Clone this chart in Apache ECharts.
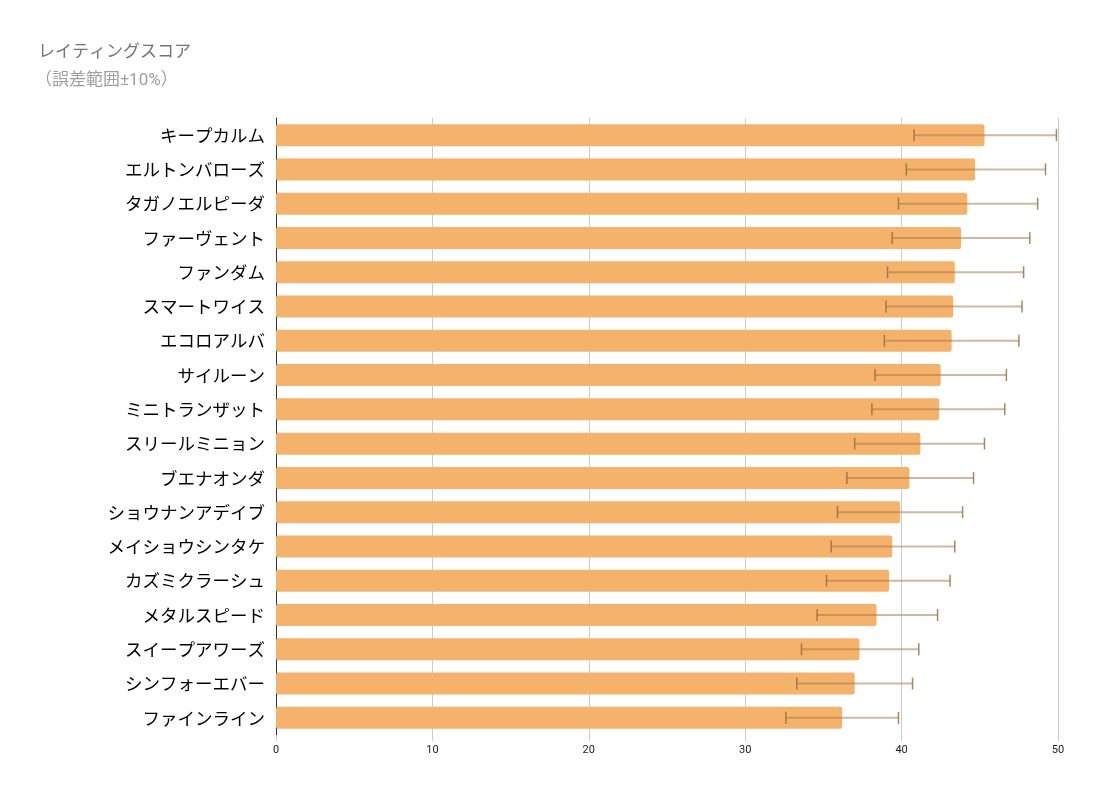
<!DOCTYPE html>
<html>
<head>
<meta charset="utf-8">
<script src="https://cdn.jsdelivr.net/npm/echarts@6/dist/echarts.min.js"></script>
<style>
  html, body { margin: 0; padding: 0; background: #fff; }
  #chart { width: 1102px; height: 799px; }
</style>
</head>
<body>
<div id="chart"></div>
<script>
// categories, top to bottom
const names = [
  "キープカルム", "エルトンバローズ", "タガノエルピーダ", "ファーヴェント",
  "ファンダム", "スマートワイス", "エコロアルバ", "サイルーン",
  "ミニトランザット", "スリールミニョン", "ブエナオンダ", "ショウナンアデイブ",
  "メイショウシンタケ", "カズミクラーシュ", "メタルスピード", "スイープアワーズ",
  "シンフォーエバー", "ファインライン"
];
const scores = [45.3, 44.7, 44.2, 43.8, 43.4, 43.3, 43.2, 42.5, 42.4, 41.2, 40.5, 39.9, 39.4, 39.2, 38.4, 37.3, 37.0, 36.2];
// error bar ends
const errLow = [40.8, 40.3, 39.8, 39.4, 39.1, 39.0, 38.9, 38.3, 38.1, 37.0, 36.5, 35.9, 35.5, 35.2, 34.6, 33.6, 33.3, 32.6];
const errHigh = [49.9, 49.2, 48.7, 48.2, 47.8, 47.7, 47.5, 46.7, 46.6, 45.3, 44.6, 43.9, 43.4, 43.1, 42.3, 41.1, 40.7, 39.8];
const xTicks = [0, 10, 20, 30, 40, 50];

const chart = echarts.init(document.getElementById("chart"));

let errData = [];
for (let i = 0; i < names.length; i++) {
  errData.push([i, errLow[i], errHigh[i]]);
}

const fontFam = 'Roboto, "Noto Sans CJK JP", sans-serif';
const jpFam = '"Noto Sans CJK JP", sans-serif';

let option = {
  animation: false,
  backgroundColor: "#ffffff",
  title: [
    {
      text: "レイティングスコア",
      left: 33,
      top: 37,
      textStyle: { color: "#757575", fontSize: 17, fontWeight: "normal", fontFamily: jpFam }
    },
    {
      text: "（誤差範囲±10%）",
      left: 30,
      top: 67,
      textStyle: { color: "#9e9e9e", fontSize: 17, fontWeight: "normal", fontFamily: fontFam }
    }
  ],
  grid: {
    left: 276,
    right: 44,
    top: 118,
    bottom: 64,
    containLabel: false
  },
  xAxis: {
    type: "value",
    min: xTicks[0],
    max: xTicks[xTicks.length - 1],
    interval: 10,
    axisLine: { show: false },
    axisTick: {
      show: true,
      inside: false,
      length: 6,
      lineStyle: { color: "#cccccc" }
    },
    axisLabel: {
      color: "#222222",
      fontSize: 11,
      fontFamily: fontFam,
      margin: 10
    },
    splitLine: {
      show: true,
      lineStyle: { color: "#cccccc", width: 1 }
    }
  },
  yAxis: {
    type: "category",
    data: names,
    inverse: true,
    axisLine: { show: true, lineStyle: { color: "#333333", width: 1 } },
    axisTick: { show: false },
    axisLabel: {
      color: "#000000",
      fontSize: 17.5,
      fontFamily: jpFam,
      margin: 11
    }
  },
  series: [
    {
      name: "スコア",
      type: "bar",
      data: scores,
      barWidth: 22,
      itemStyle: {
        color: "#f5b26b",
        borderRadius: 2
      },
      z: 2
    },
    {
      name: "誤差",
      type: "custom",
      data: errData,
      encode: { x: [1, 2], y: 0 },
      z: 3,
      renderItem: function(params, api) {
        let idx = api.value(0);
        let lo = api.coord([api.value(1), idx]);
        let hi = api.coord([api.value(2), idx]);
        let h = 6;
        return {
          type: "group",
          children: [
            {
              type: "line",
              shape: { x1: lo[0], y1: lo[1], x2: hi[0], y2: hi[1] },
              style: { stroke: "rgba(160,115,70,0.5)", lineWidth: 2 }
            },
            {
              type: "line",
              shape: { x1: lo[0], y1: lo[1] - h, x2: lo[0], y2: lo[1] + h },
              style: { stroke: "rgba(150,105,60,0.8)", lineWidth: 1.5 }
            },
            {
              type: "line",
              shape: { x1: hi[0], y1: hi[1] - h, x2: hi[0], y2: hi[1] + h },
              style: { stroke: "rgba(150,105,60,0.8)", lineWidth: 1.5 }
            }
          ]
        };
      }
    }
  ]
};

chart.setOption(option, true);
</script>
</body>
</html>
